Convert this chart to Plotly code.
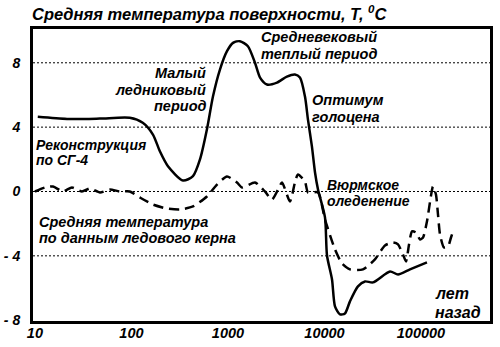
import math
import plotly.graph_objects as go

# ---- data (years ago, temperature °C) ----
recon_years = [10.7, 21.5, 47, 96, 131, 167, 197, 239, 342, 434, 513, 605, 700, 826, 977,
               1127, 1330, 1610, 1905, 2150, 2535, 3220, 4080, 4940, 5570, 6280, 6745,
               7410, 7980, 8570, 10120, 10620, 11970, 12850, 14490, 16290, 18370, 22230,
               26300, 31840, 47750, 57810, 76910, 115300]
recon_temp = [4.64, 4.51, 4.53, 4.58, 4.27, 3.54, 2.50, 1.57, 0.68, 0.95, 1.99, 3.85, 5.92,
              7.58, 8.72, 9.24, 9.34, 9.03, 8.0, 7.08, 6.65, 6.77, 7.14, 7.27, 7.08, 5.90,
              4.47, 2.80, 1.18, 0.12, -1.61, -3.98, -5.47, -7.14, -7.64, -7.58, -6.83,
              -5.90, -5.59, -5.65, -4.97, -5.16, -4.84, -4.41]

core_years = [10, 12.7, 15.4, 19.5, 24.2, 30.7, 37.2, 47.2, 59.8, 76, 96, 122, 167, 233,
              318, 434, 605, 769, 977, 1240, 1400, 1905, 2415, 2860, 3300, 3630, 4390,
              4940, 5310, 6280, 6745, 8570, 10120, 12850, 15170, 18370, 25060, 33340,
              42360, 51290, 57810, 65010, 69980, 75160, 80720, 88720, 97720, 104950,
              115300, 127000, 133000, 142900, 150000, 157400, 173000, 190500, 204600,
              214800]
core_temp = [0.0, 0.25, 0.31, 0.0, 0.25, 0.0, 0.19, -0.06, 0.12, 0.0, 0.0, -0.37, -0.81,
             -1.06, -1.12, -0.93, -0.31, 0.43, 0.93, 0.56, 0.25, 0.56, 0.0, -0.50, 0.12,
             0.56, -0.62, 0.56, 1.06, 0.62, -0.06, -0.06, -1.74, -3.60, -4.47, -4.84,
             -4.84, -4.22, -3.35, -3.17, -3.29, -3.91, -4.35, -3.29, -2.48, -2.55, -2.98,
             -2.86, -1.86, -0.25, 0.31, -0.19, -1.43, -2.67, -3.48, -3.42, -2.86, -2.48]

x_ticks = [10, 100, 1000, 10000, 100000]
x_ticklabels = ["10", "100", "1000", "10000", "100000"]
y_ticks = [-8, -4, 0, 4, 8]
y_ticklabels = ["- 8", "- 4", "0", "4", "8"]

FONT = "Liberation Sans, Arial, sans-serif"
W, H = 500, 347
L, R, T, B = 33, 10, 29, 26

fig = go.Figure()
fig.add_trace(go.Scatter(x=core_years, y=core_temp, mode="lines",
                         line=dict(color="black", width=2.5, dash="10px,6px", shape="spline",
                                   smoothing=0.6),
                         showlegend=False))
fig.add_trace(go.Scatter(x=recon_years, y=recon_temp, mode="lines",
                         line=dict(color="black", width=2.5, shape="spline", smoothing=0.7),
                         showlegend=False))

# dotted grid lines at the tick values
for v in x_ticks[1:]:
    fig.add_shape(type="line", xref="x", yref="paper", x0=math.log10(v), x1=math.log10(v),
                  y0=0, y1=1, layer="below", line=dict(color="black", width=1, dash="2px,2px"))
for v in y_ticks[1:]:
    fig.add_shape(type="line", xref="paper", yref="y", x0=0, x1=1, y0=v, y1=v,
                  layer="below", line=dict(color="black", width=1, dash="2px,2px"))

pw, ph = W - L - R, H - T - B


def px(xp, yp):
    return (xp - L) / pw, (H - B - yp) / ph


def note(lines, xp, ys, xanchor="left", size=14.5):
    for text, yp in zip(lines, ys):
        x, y = px(xp, yp)
        fig.add_annotation(text=text, xref="paper", yref="paper", x=x, y=y,
                           xanchor=xanchor, yanchor="middle", showarrow=False,
                           borderpad=0,
                           font=dict(family=FONT, size=size, color="black",
                                     weight="bold", style="italic"))


note(["Средняя температура поверхности, T, <sup>0</sup>C"], 31, [13], size=16.5)
note(["Средневековый", "теплый период"], 260, [37, 54])
note(["Малый", "ледниковый", "период"], 207, [73, 89.5, 105.5], xanchor="right")
note(["Оптимум", "голоцена"], 311, [100, 117])
note(["Реконструкция", "по СГ-4"], 35, [144.5, 160], size=14)
note(["Вюрмское", "оледенение"], 326, [185, 200.5], size=14)
note(["Средняя температура", "по данным ледового керна"], 38, [222, 237.5])
note(["лет", "назад"], 434, [293, 312], size=16)

fig.update_xaxes(type="log", range=[0.98, 5.715], tickvals=x_ticks, ticktext=x_ticklabels,
                 showgrid=False,
                 showline=True, linecolor="black", linewidth=3, mirror=True,
                 ticks="", ticklabelstandoff=-3, automargin=False,
                 tickfont=dict(family=FONT, size=14.5, color="black", weight="bold",
                               style="italic"),
                 zeroline=False)
fig.update_yaxes(range=[-8.05, 10.1], tickvals=y_ticks, ticktext=y_ticklabels,
                 showgrid=False,
                 showline=True, linecolor="black", linewidth=3, mirror=True,
                 ticks="outside", ticklen=7, tickcolor="rgba(0,0,0,0)", automargin=False,
                 tickfont=dict(family=FONT, size=14, color="black", weight="bold",
                               style="italic"),
                 zeroline=False)

fig.update_layout(width=W, height=H, margin=dict(l=L, r=R, t=T, b=B, autoexpand=False),
                  paper_bgcolor="white", plot_bgcolor="white")

fig.write_html("out.html")
